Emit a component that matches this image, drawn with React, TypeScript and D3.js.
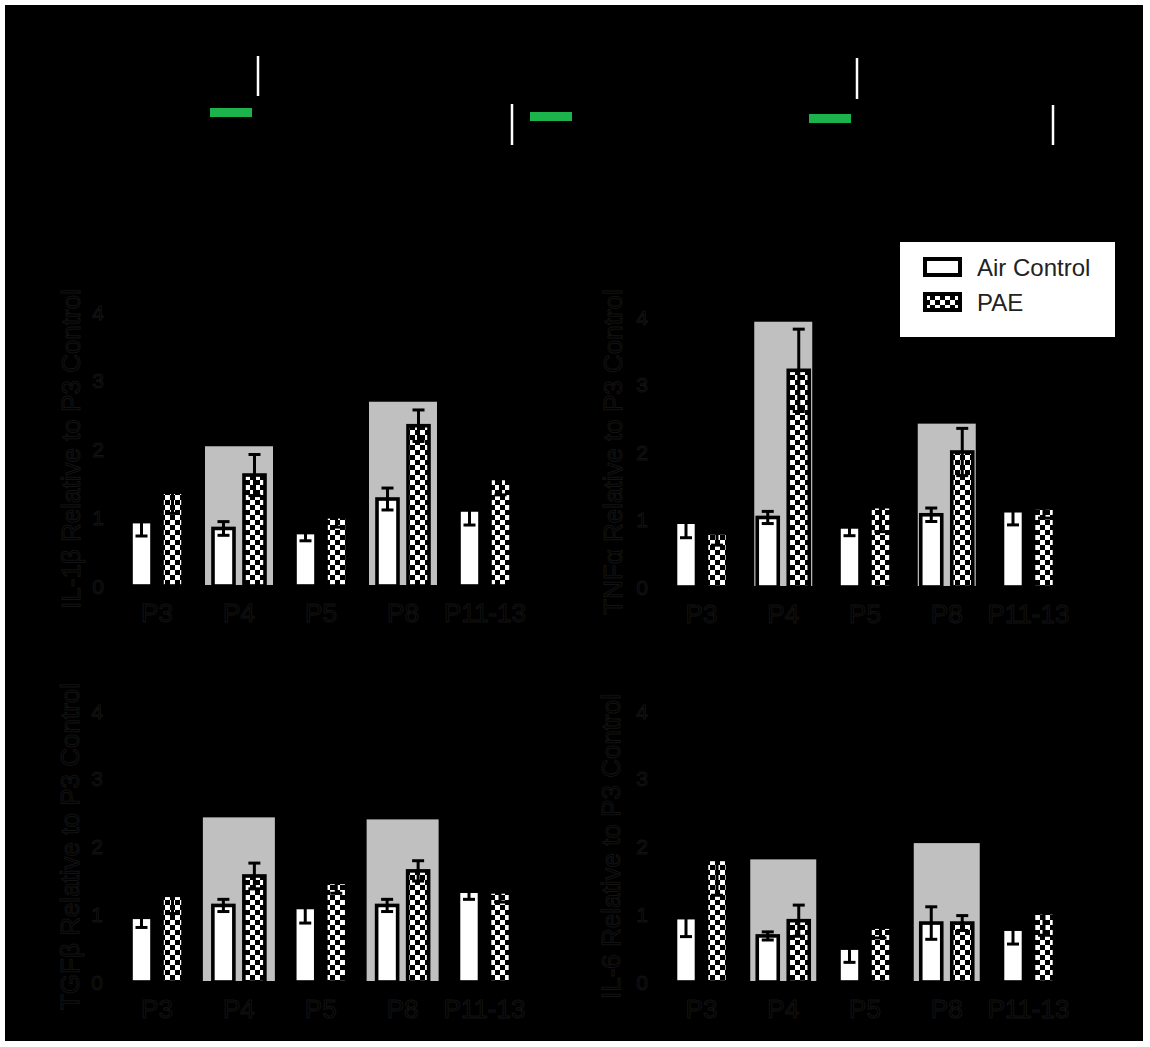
import * as d3 from 'd3';
import React from 'react';

// categories / ticks
const categories = ['P3', 'P4', 'P5', 'P8', 'P11-13'];
const yTicks = [0, 1, 2, 3, 4];
const seriesNames = ['Air Control', 'PAE'];

// IL-1β
const il1bAir = [0.94, 0.84, 0.78, 1.27, 1.11];
const il1bAirErr = [0.21, 0.1, 0.12, 0.16, 0.22];
const il1bPae = [1.37, 1.62, 1.01, 2.34, 1.57];
const il1bPaeErr = [0.31, 0.3, 0.15, 0.23, 0.24];
const il1bShade = [{ cat: 'P4', top: 2.04 }, { cat: 'P8', top: 2.69 }];

// TNFα
const tnfAir = [0.96, 1.03, 0.89, 1.07, 1.13];
const tnfAirErr = [0.23, 0.09, 0.13, 0.1, 0.21];
const tnfPae = [0.8, 3.21, 1.19, 2.0, 1.17];
const tnfPaeErr = [0.18, 0.61, 0.37, 0.35, 0.15];
const tnfShade = [{ cat: 'P4', top: 3.93 }, { cat: 'P8', top: 2.42 }];

// TGFβ
const tgfAir = [0.955, 1.13, 1.1, 1.13, 1.34];
const tgfAirErr = [0.15, 0.09, 0.23, 0.09, 0.12];
const tgfPae = [1.28, 1.565, 1.47, 1.64, 1.33];
const tgfPaeErr = [0.27, 0.19, 0.16, 0.15, 0.15];
const tgfShade = [{ cat: 'P4', top: 2.43 }, { cat: 'P8', top: 2.4 }];

// IL-6
const il6Air = [0.95, 0.68, 0.5, 0.87, 0.78];
const il6AirErr = [0.28, 0.06, 0.21, 0.24, 0.22];
const il6Pae = [1.81, 0.905, 0.81, 0.87, 1.02];
const il6PaeErr = [0.53, 0.23, 0.16, 0.11, 0.33];
const il6Shade = [{ cat: 'P4', top: 1.81 }, { cat: 'P8', top: 2.05 }];

const panels = [
  { title: 'IL-1β Relative to P3 Control', air: il1bAir, airErr: il1bAirErr, pae: il1bPae, paeErr: il1bPaeErr, shade: il1bShade,
    xRange: [157, 485], yRange: [586, 312], titleX: 71, tickX: 98, shadeW: 68 },
  { title: 'TNFα Relative to P3 Control', air: tnfAir, airErr: tnfAirErr, pae: tnfPae, paeErr: tnfPaeErr, shade: tnfShade,
    xRange: [701.5, 1028.5], yRange: [587, 317], titleX: 613, tickX: 642, shadeW: 58 },
  { title: 'TGFβ Relative to P3 Control', air: tgfAir, airErr: tgfAirErr, pae: tgfPae, paeErr: tgfPaeErr, shade: tgfShade,
    xRange: [157, 484.5], yRange: [982, 711], titleX: 70, tickX: 97, shadeW: 72 },
  { title: 'IL-6 Relative to P3 Control', air: il6Air, airErr: il6AirErr, pae: il6Pae, paeErr: il6PaeErr, shade: il6Shade,
    xRange: [701.5, 1028.5], yRange: [982, 711], titleX: 611, tickX: 642, shadeW: 66 },
];

// schematic at the top (exposure windows and collection marks)
const greenBars = [
  { x: 210, y: 108 }, { x: 530, y: 112 }, { x: 809, y: 114 },
];
const whiteMarks = [
  { x: 258, y1: 56, y2: 96 }, { x: 512, y1: 104, y2: 145 },
  { x: 857, y1: 58, y2: 99 }, { x: 1053, y1: 105, y2: 145 },
];

const font = 'Liberation Sans, Arial, sans-serif';
const barW = 21;
const barOff = 15.5;

const Panel = ({ p }) => {
  const x = d3.scalePoint().domain(categories).range(p.xRange);
  const y = d3.scaleLinear().domain([0, 4]).range(p.yRange);
  const y0 = y(0);
  const mid = (p.yRange[0] + p.yRange[1]) / 2;
  // black text on black, only a faint edge shows like in the scan
  const txt = { fill: '#000', stroke: '#131313', strokeWidth: 1, fontFamily: font };

  const bar = (v, e, cx, fill, key) => (
    <g key={key}>
      <rect x={cx - barW / 2} y={y(v)} width={barW} height={y0 - y(v)}
        fill={fill} stroke="#000" strokeWidth={3.6} />
      <line x1={cx} x2={cx} y1={y(v - e)} y2={y(v + e)} stroke="#000" strokeWidth={3} />
      <line x1={cx - 6} x2={cx + 6} y1={y(v + e)} y2={y(v + e)} stroke="#000" strokeWidth={3} />
      <line x1={cx - 6} x2={cx + 6} y1={y(v - e)} y2={y(v - e)} stroke="#000" strokeWidth={3} />
    </g>
  );

  return (
    <g>
      {p.shade.map((s) => (
        <rect key={s.cat} x={x(s.cat) - p.shadeW / 2} y={y(s.top)} width={p.shadeW}
          height={y0 - y(s.top)} fill="#c0c0c0" />
      ))}
      {categories.map((c, i) => bar(p.air[i], p.airErr[i], x(c) - barOff, '#fff', 'a' + c))}
      {categories.map((c, i) => bar(p.pae[i], p.paeErr[i], x(c) + barOff, 'url(#checker)', 'p' + c))}
      <line x1={p.tickX + 18} x2={p.tickX + 18} y1={y(0)} y2={y(4)} stroke="#000" strokeWidth={2} />
      <line x1={p.tickX + 18} x2={p.xRange[1] + 45} y1={y0} y2={y0} stroke="#000" strokeWidth={2} />
      {yTicks.map((t) => (
        <text key={t} x={p.tickX} y={y(t)} textAnchor="middle" dominantBaseline="central"
          fontSize={21} {...txt}>{t}</text>
      ))}
      {categories.map((c) => (
        <text key={c} x={x(c)} y={y0 + 27} textAnchor="middle" dominantBaseline="central"
          fontSize={26} {...txt}>{c}</text>
      ))}
      <text transform={`translate(${p.titleX},${mid}) rotate(-90)`} textAnchor="middle"
        dominantBaseline="central" fontSize={26} {...txt}>{p.title}</text>
    </g>
  );
};

const App = () => {
  return (
    <div style={{ position: 'absolute', left: 0, top: 0 }}>
      <svg width={1150} height={1047} style={{ display: 'block', background: '#fff' }}>
        <defs>
          <pattern id="checker" patternUnits="userSpaceOnUse" width={10} height={10}>
            <rect width={10} height={10} fill="#000" />
            <rect width={5} height={5} fill="#fff" />
            <rect x={5} y={5} width={5} height={5} fill="#fff" />
          </pattern>
        </defs>
        <rect x={5} y={5} width={1138} height={1036} fill="#000" />

        {greenBars.map((g, i) => (
          <rect key={i} x={g.x} y={g.y} width={42} height={9} fill="#1db34c" />
        ))}
        {whiteMarks.map((m, i) => (
          <line key={i} x1={m.x} x2={m.x} y1={m.y1} y2={m.y2} stroke="#fff" strokeWidth={2.5} />
        ))}

        {panels.map((p, i) => <Panel key={i} p={p} />)}

        <g>
          <rect x={900} y={242} width={215} height={95} fill="#fff" />
          <rect x={925} y={259} width={35} height={16} fill="#fff" stroke="#000" strokeWidth={4} />
          <rect x={925} y={294} width={35} height={16} fill="url(#checker)" stroke="#000" strokeWidth={4} />
          <text x={977} y={267} dominantBaseline="central" fontSize={24} fontFamily={font} fill="#222">{seriesNames[0]}</text>
          <text x={977} y={302} dominantBaseline="central" fontSize={24} fontFamily={font} fill="#222">{seriesNames[1]}</text>
        </g>
      </svg>
    </div>
  );
};

export default App;
